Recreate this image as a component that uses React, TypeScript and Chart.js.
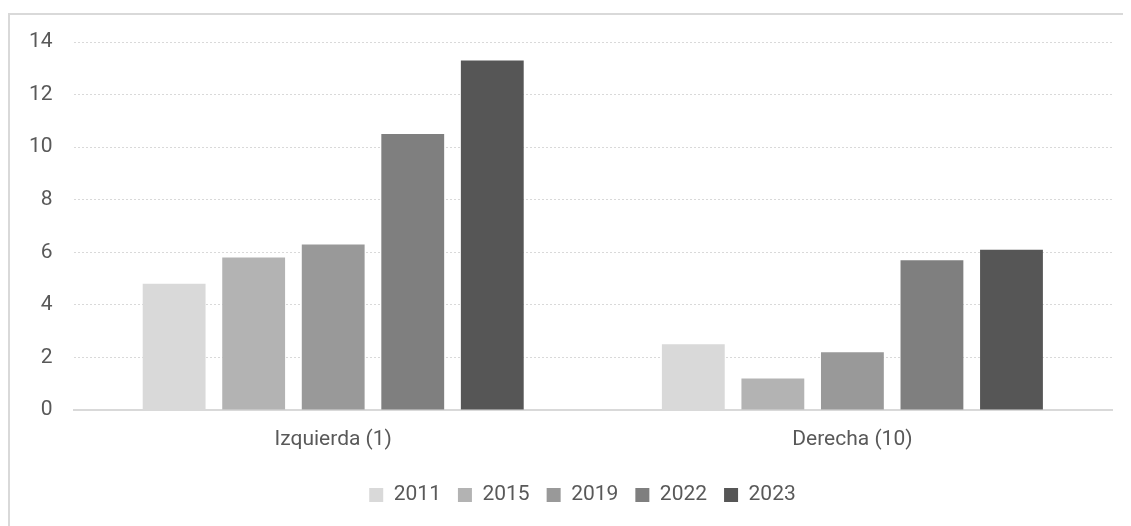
import React, { useEffect, useRef } from "react";
import { Chart, registerables } from "chart.js";

Chart.register(...registerables);

const categories = ["Izquierda (1)", "Derecha (10)"];
const seriesLabels = ["2011", "2015", "2019", "2022", "2023"];
const values2011 = [4.8, 2.5];
const values2015 = [5.8, 1.2];
const values2019 = [6.3, 2.2];
const values2022 = [10.5, 5.7];
const values2023 = [13.3, 6.1];
const seriesColors = ["#d9d9d9", "#b3b3b3", "#999999", "#7f7f7f", "#565656"];
const yMin = 0;
const yMax = 14;
const yStep = 2;

const FONT = "Roboto, 'Noto Sans', sans-serif";
const TEXT = "#595959";

const legendShift = {
  id: "legendShift",
  afterLayout(chart: any) {
    if (chart.legend) {
      chart.legend.left = 45;
    }
  },
};

export default function App() {
  const ref = useRef<HTMLCanvasElement | null>(null);

  useEffect(() => {
    if (!ref.current) return;
    const allValues = [values2011, values2015, values2019, values2022, values2023];
    const chart = new Chart(ref.current, {
      type: "bar",
      data: {
        labels: categories,
        datasets: allValues.map((v, i) => ({
          label: seriesLabels[i],
          data: v,
          backgroundColor: seriesColors[i],
          borderWidth: 0,
          categoryPercentage: 0.766,
          barPercentage: 0.79,
        })),
      },
      plugins: [legendShift],
      options: {
        responsive: false,
        animation: false,
        layout: { padding: { left: 0, right: 19, top: 34, bottom: 10.5 } },
        plugins: {
          tooltip: { enabled: false },
          legend: {
            position: "bottom",
            labels: {
              boxWidth: 14,
              boxHeight: 14,
              padding: 17,
              color: TEXT,
              font: { family: FONT, size: 21 },
            },
          },
        },
        scales: {
          x: {
            grid: { display: false, drawTicks: false },
            border: { display: true, color: "#d9d9d9", width: 2 },
            ticks: { color: TEXT, font: { family: FONT, size: 21 }, padding: 17 },
            afterFit: (s: any) => {
              s.height = 57.5;
            },
          },
          y: {
            min: yMin,
            max: yMax,
            grid: { color: "#d9d9d9", lineWidth: 1, drawTicks: false },
            border: { display: false, dash: [2, 2] },
            ticks: {
              stepSize: yStep,
              color: TEXT,
              font: { family: FONT, size: 21 },
              padding: 21,
            },
          },
        },
      },
    });
    return () => chart.destroy();
  }, []);

  return (
    <div style={{ position: "relative", width: 1123, height: 518, overflow: "hidden" }}>
      <div
        style={{
          position: "absolute",
          left: 0,
          top: 5,
          width: 1200,
          height: 600,
          borderTop: "2px solid #d9d9d9",
          borderLeft: "2px solid #d9d9d9",
          boxSizing: "border-box",
        }}
      />
      <canvas
        ref={ref}
        width={1123}
        height={518}
        style={{ position: "absolute", left: 0, top: 0, display: "block" }}
      />
    </div>
  );
}
